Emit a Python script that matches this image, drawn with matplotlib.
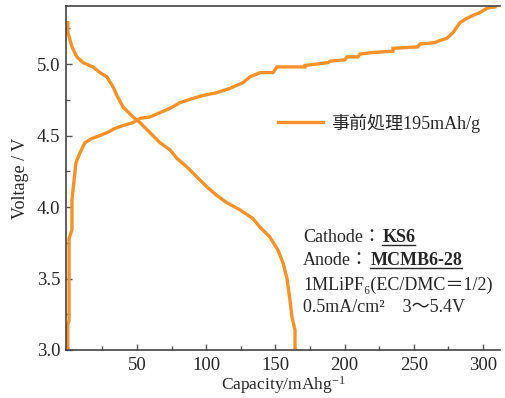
"""Charge/discharge curve, KS6 / MCMB6-28 cell."""
import matplotlib
matplotlib.use("Agg")
import matplotlib.pyplot as plt
from matplotlib.lines import Line2D
from matplotlib.ticker import MultipleLocator

plt.rcParams["font.family"] = ["Liberation Serif", "DejaVu Serif", "Noto Sans CJK JP"]
plt.rcParams["mathtext.default"] = "regular"

INK = "#262626"
ORANGE = "#f7922a"

# charge (rising) curve, capacity mAh/g vs voltage V
charge_cap = [0, 0, 0.9, 0.9, 3.0, 3.0, 5.9, 8.8, 12.4, 17.5, 23.3,
              28.3, 34.1, 39.9, 47.1, 52.2, 59.4, 66.6, 73.8, 81.1, 90.5,
              97.7, 107.8, 117.2, 126.6, 131.6, 138.9, 148.3, 151.2, 171.4, 171.4,
              188.0, 189.5, 200.3, 201.7, 209.7, 211.1, 219.8, 235.0, 235.0, 253.0,
              254.5, 265.3, 267.5, 274.0, 278.3, 283.4, 288.4, 292.8, 297.8, 302.9, 308.7]
charge_v = [3.0, 3.175, 3.21, 3.78, 3.84, 4.05, 4.31, 4.38, 4.45, 4.48, 4.50,
            4.52, 4.55, 4.57, 4.59, 4.62, 4.63, 4.66, 4.69, 4.73, 4.76,
            4.78, 4.80, 4.83, 4.87, 4.91, 4.94, 4.94, 4.98, 4.98, 4.99,
            5.01, 5.02, 5.03, 5.05, 5.05, 5.07, 5.08, 5.09, 5.11, 5.12,
            5.14, 5.15, 5.16, 5.18, 5.22, 5.29, 5.32, 5.34, 5.36, 5.39, 5.40]

# discharge (falling) curve
dis_cap = [0, 0.1, 3.0, 6.6, 11.0, 18.2, 23.3, 28.3, 32.7, 35.5,
           39.9, 47.1, 52.2, 59.4, 66.6, 73.8, 78.9, 86.1, 93.3, 100.6,
           107.8, 115.0, 124.4, 133.7, 138.8, 146.0, 151.8, 155.5, 158.4, 160.5,
           162.0, 164.2, 164.2]
dis_v = [5.29, 5.22, 5.12, 5.05, 5.01, 4.98, 4.94, 4.91, 4.84, 4.78,
         4.70, 4.63, 4.59, 4.52, 4.45, 4.40, 4.34, 4.28, 4.21, 4.14,
         4.08, 4.03, 3.98, 3.92, 3.86, 3.79, 3.70, 3.61, 3.50, 3.35,
         3.23, 3.14, 3.00]

x_ticks = [50, 100, 150, 200, 250, 300]
y_ticks = [3.0, 3.5, 4.0, 4.5, 5.0]
legend_label = "事前処理195mAh/g"

fig = plt.figure(figsize=(5.06, 3.98), dpi=100)
W, H = 506, 398
ax = fig.add_axes([66 / W, 1 - 350 / H, 434 / W, 344 / H])

ax.plot(charge_cap, charge_v, color=ORANGE, lw=2.4, label=legend_label,
        solid_joinstyle="miter")
ax.plot(dis_cap, dis_v, color=ORANGE, lw=2.4, solid_joinstyle="miter")

ax.set_xlim(-1.3, 312.3)
ax.set_ylim(3.0, 5.406)
ax.set_xticks(x_ticks)
ax.set_yticks(y_ticks)
ax.set_yticklabels([f"{v:.1f}" for v in y_ticks])
ax.xaxis.set_minor_locator(MultipleLocator(25))
ax.yaxis.set_minor_locator(MultipleLocator(0.25))
ax.tick_params(which="both", direction="in", color="#555555", width=1.0,
               labelsize=13.5, labelcolor=INK, top=False, right=False)
ax.tick_params(which="major", length=4.5)
ax.tick_params(which="minor", length=3)
ax.tick_params(axis="y", pad=4)
ax.tick_params(axis="x", pad=5)
for side in ["left", "bottom", "top"]:
    ax.spines[side].set_color("#444444")
    ax.spines[side].set_linewidth(1.2)
ax.spines["right"].set_visible(False)

ax.set_xlabel("Capacity/mAhg$^{-1}$", fontsize=12.5, color=INK, labelpad=0)
ax.set_ylabel("Voltage / V", fontsize=13, color=INK, labelpad=6)

ax.legend(loc="center left", bbox_to_anchor=((278 - 66) / 434, (350 - 123) / 344),
          frameon=False, borderpad=0, borderaxespad=0, handlelength=2.5,
          handletextpad=0.45, prop={"size": 13}, labelcolor=INK)

# condition notes
fs = 13
t1 = fig.text(303 / W, 1 - 242 / H, "Cathode：", fontsize=fs, color=INK)
b1 = ax.annotate("KS6", xy=(1, 0), xycoords=t1, xytext=(1, 0),
                 textcoords="offset points", fontsize=fs, color=INK,
                 fontweight="bold", va="bottom", ha="left")
t2 = fig.text(303 / W, 1 - 265 / H, "Anode：", fontsize=fs, color=INK)
b2 = ax.annotate("MCMB6-28", xy=(1, 0), xycoords=t2, xytext=(1, 0),
                 textcoords="offset points", fontsize=fs, color=INK,
                 fontweight="bold", va="bottom", ha="left")
fig.text(303 / W, 1 - 290 / H, "1MLiPF₆(EC/DMC＝1/2)", fontsize=fs, color=INK)
fig.text(303 / W, 1 - 312 / H, "0.5mA/cm²　3〜5.4V", fontsize=fs, color=INK)

fig.canvas.draw()
r = fig.canvas.get_renderer()
for b in (b1, b2):
    bb = b.get_window_extent(r)
    y = bb.y0 + 1
    fig.add_artist(Line2D([bb.x0 / W, bb.x1 / W], [y / H, y / H],
                          transform=fig.transFigure, color=INK, lw=1.0))

fig.savefig("out.png", dpi=100, facecolor="white")
